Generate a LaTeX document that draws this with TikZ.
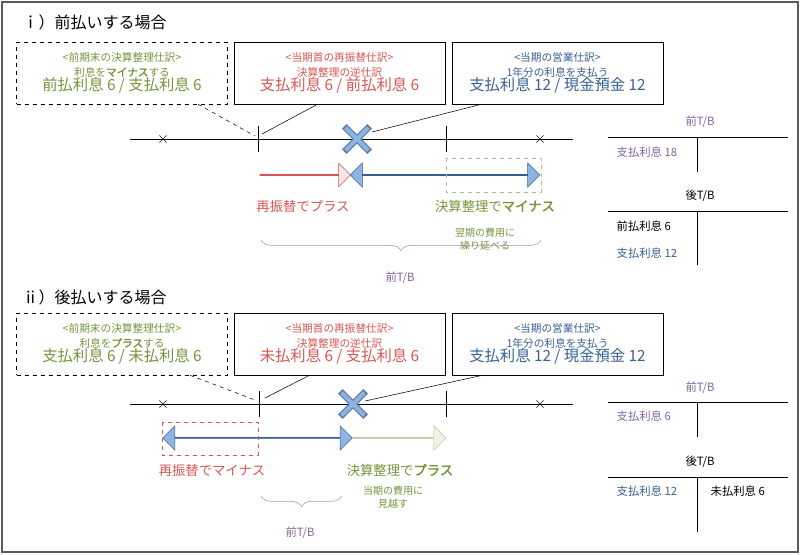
\documentclass[tikz,border=0pt]{standalone}
\usepackage{fontspec}
\setmainfont{Noto Sans CJK JP}[AutoFakeBold=2]
\usetikzlibrary{positioning,shapes.arrows,shapes.misc,decorations.pathreplacing,calc}
\definecolor{kgreen}{RGB}{119,147,60}
\definecolor{kred}{RGB}{214,86,82}
\definecolor{kblue}{RGB}{55,96,146}
\definecolor{kpurple}{RGB}{128,100,162}
\definecolor{kfill}{RGB}{141,180,226}
\definecolor{kgray}{RGB}{90,90,90}
\newcommand{\bigj}{\fontsize{11.5}{13}\selectfont}

\begin{document}
\begin{tikzpicture}[x=0.75pt,y=-0.75pt,
  jbox/.style={draw,minimum width=158pt,minimum height=46.5pt,align=center,inner sep=1pt,font=\fontsize{8}{11}\selectfont},
  xmark/.style={font=\fontsize{13}{13}\selectfont},
  tlab/.style={font=\fontsize{8.5}{10}\selectfont,anchor=west},
  arr/.style={single arrow,minimum width=18pt,single arrow head extend=4.5pt,single arrow head indent=0pt,inner sep=0pt,shape border rotate=0},
  darr/.style={double arrow,minimum width=18pt,double arrow head extend=4.5pt,double arrow head indent=0pt,inner sep=0pt},
  brace/.style={decorate,decoration={brace,amplitude=8pt,mirror},draw=kpurple!70}]
  \useasboundingbox (0,0) rectangle (800,554);
  \draw[kgray,line width=1pt] (2,2) rectangle (798,552);

  % i) prepaid
  \node[anchor=west,font=\fontsize{12}{12}\selectfont] (t1) at (18,22) {ｉ）前払いする場合};
  \node[jbox,dashed] (a1) at (122,73) {\textcolor{kgreen}{<前期末の決算整理仕訳>}\\\textcolor{kgreen}{利息を\textbf{マイナス}する}\\{\bigj\textcolor{kgreen}{前払利息 6 / 支払利息 6}}};
  \node[jbox] (b1) at (339.5,73) {\textcolor{kred}{<当期首の再振替仕訳>}\\\textcolor{kred}{決算整理の逆仕訳}\\{\bigj\textcolor{kred}{支払利息 6 / 前払利息 6}}};
  \node[jbox] (c1) at (557.5,73) {\textcolor{kblue}{<当期の営業仕訳>}\\\textcolor{kblue}{1年分の利息を支払う}\\{\bigj\textcolor{kblue}{支払利息 12 / 現金預金 12}}};
  \draw (130,139) -- (573,139);
  \node[xmark] (x1) at (163,139) {$\times$};
  \node[xmark] (x2) at (540,139) {$\times$};
  \draw (258,126) coordinate (p1) -- (258,152);
  \draw (446,126) -- (446,152);
  \node[draw=kblue!80,cross out,line width=5pt,minimum size=14pt] (m1) at (357,139) {};
  \node[cross out,draw=kfill,line width=3pt,minimum size=14pt] at (357,139) {};
  \draw[dashed] ($(a1.south)+(76,0)$) -- (255,136);
  \draw ($(b1.south)+(-22,0)$) -- (262,134);
  \draw ($(c1.south)+(-76,0)$) -- (372,132);
  \node[arr,draw=kred,fill=kred!15,minimum height=68pt] (r1) at (305,175) {};
  \node[darr,draw=kblue,fill=kfill,minimum height=142pt] (d1) at (445,175) {};
  \draw[kgreen!60,dashed] (446,158) rectangle (541,192);
  \node[kred,font=\fontsize{10}{10}\selectfont] (l1) at (303,206) {再振替でプラス};
  \node[kgreen,font=\fontsize{10}{10}\selectfont] (l2) at (495,206) {決算整理で\textbf{マイナス}};
  \node[kgreen,align=center,font=\fontsize{7.5}{10}\selectfont] (l3) at (485,239) {翌期の費用に\\繰り延べる};
  \draw[brace] (261,240) -- (541,240);
  \node[kpurple,font=\fontsize{8.5}{10}\selectfont] (f1) at (400,278) {前T/B};
  \node[kpurple,font=\fontsize{8.5}{10}\selectfont] (tb1) at (700,122) {前T/B};
  \draw (608,137) -- (788,137) (697,137) -- (697,172);
  \node[tlab,kpurple] (s1) at (612,152) {支払利息 18};
  \node[font=\fontsize{8.5}{10}\selectfont] (tb2) at (700,196) {後T/B};
  \draw (608,211) -- (788,211) (697,211) -- (697,265);
  \node[tlab] (s2) at (612,226) {前払利息 6};
  \node[tlab,kblue] (s3) at (612,253) {支払利息 12};

  % ii) accrued
  \node[anchor=west,font=\fontsize{12}{12}\selectfont] (t2) at (18,297) {ⅱ）後払いする場合};
  \node[jbox,dashed] (a2) at (122,344) {\textcolor{kgreen}{<前期末の決算整理仕訳>}\\\textcolor{kgreen}{利息を\textbf{プラス}する}\\{\bigj\textcolor{kgreen}{支払利息 6 / 未払利息 6}}};
  \node[jbox] (b2) at (339.5,344) {\textcolor{kred}{<当期首の再振替仕訳>}\\\textcolor{kred}{決算整理の逆仕訳}\\{\bigj\textcolor{kred}{未払利息 6 / 支払利息 6}}};
  \node[jbox] (c2) at (557.5,344) {\textcolor{kblue}{<当期の営業仕訳>}\\\textcolor{kblue}{1年分の利息を支払う}\\{\bigj\textcolor{kblue}{支払利息 12 / 現金預金 12}}};
  \draw (130,404) -- (573,404);
  \node[xmark] (x3) at (163,404) {$\times$};
  \node[xmark] (x4) at (540,404) {$\times$};
  \draw (259,391) -- (259,417);
  \draw (446,391) -- (446,417);
  \node[draw=kblue!80,cross out,line width=5pt,minimum size=14pt] (m2) at (353,404) {};
  \node[cross out,draw=kfill,line width=3pt,minimum size=14pt] at (353,404) {};
  \draw[dashed] ($(a2.south)+(68,0)$) -- (255,400);
  \draw ($(b2.south)+(-30,0)$) -- (265,398);
  \draw ($(c2.south)+(-75,0)$) -- (365,401);
  \node[darr,draw=kblue,fill=kfill,minimum height=142pt] (d2) at (257.5,438) {};
  \node[arr,draw=kgreen!50,fill=kgreen!12,minimum height=70pt] (g2) at (399,438) {};
  \draw[kred,dashed] (162,422) rectangle (258,455);
  \node[kred,font=\fontsize{10}{10}\selectfont] (l4) at (212,470) {再振替でマイナス};
  \node[kgreen,font=\fontsize{10}{10}\selectfont] (l5) at (400,470) {決算整理で\textbf{プラス}};
  \node[kgreen,align=center,font=\fontsize{7.5}{10}\selectfont] (l6) at (393,497) {当期の費用に\\見越す};
  \draw[brace] (261,496) -- (342,496);
  \node[kpurple,font=\fontsize{8.5}{10}\selectfont] (f2) at (300,533) {前T/B};
  \node[kpurple,font=\fontsize{8.5}{10}\selectfont] (tb3) at (700,388) {前T/B};
  \draw (608,402) -- (788,402) (697,402) -- (697,437);
  \node[tlab,kpurple] (s4) at (612,416) {支払利息 6};
  \node[font=\fontsize{8.5}{10}\selectfont] (tb4) at (700,462) {後T/B};
  \draw (608,477) -- (788,477) (697,477) -- (697,532);
  \node[tlab,kblue] (s5) at (612,491) {支払利息 12};
  \node[tlab] (s6) at (706,491) {未払利息 6};
\end{tikzpicture}
\end{document}
